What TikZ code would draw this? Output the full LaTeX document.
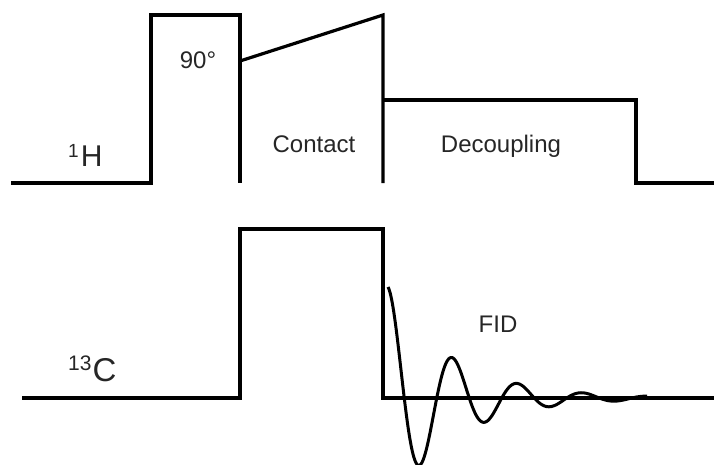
\documentclass[tikz,border=0pt]{standalone}
\usepackage{fontspec}
\setmainfont{Liberation Sans}
\begin{document}
\begin{tikzpicture}[x=1pt,y=-1pt,
  wave/.style={line width=3.2pt,line join=miter,black},
  fidline/.style={line width=3pt,black,line join=round},
  lab/.style={anchor=base,inner sep=0pt,text=black!85,font=\fontsize{24}{24}\selectfont}]
\useasboundingbox (0,0) rectangle (714,464);
% 1H channel
\draw[wave] (11,183) -- (151,183) -- (151,15) -- (240,15) -- (240,183);
\draw[wave] (240,61) -- (383,15) -- (383,183);
\draw[wave] (383,100) -- (636,100) -- (636,183) -- (714,183);
% 13C channel
\draw[wave] (22,398) -- (240,398) -- (240,229) -- (383,229) -- (383,398) -- (714,398);
% FID
\draw[fidline] plot[domain=0:259,samples=260,smooth] ({388+\x},{398-111*exp(-0.0157*\x)*cos(\x/65*360)});
% labels
\node[lab] (p90) at (198,68) {90°};
\node[lab] (contact) at (314,152) {Contact};
\node[lab] (decoup) at (501,152) {Decoupling};
\node[lab] (fid) at (498,332) {FID};
\node[anchor=base west,inner sep=0pt,text=black!85] (h1) at (68,166)
  {{\fontsize{19}{19}\selectfont\raisebox{9pt}{1}}\hspace{2pt}{\fontsize{30}{30}\selectfont H}};
\node[anchor=base west,inner sep=0pt,text=black!85] (c13) at (68,381)
  {{\fontsize{21}{21}\selectfont\raisebox{11pt}{13}}\hspace{1pt}{\fontsize{33}{33}\selectfont C}};
\end{tikzpicture}
\end{document}
